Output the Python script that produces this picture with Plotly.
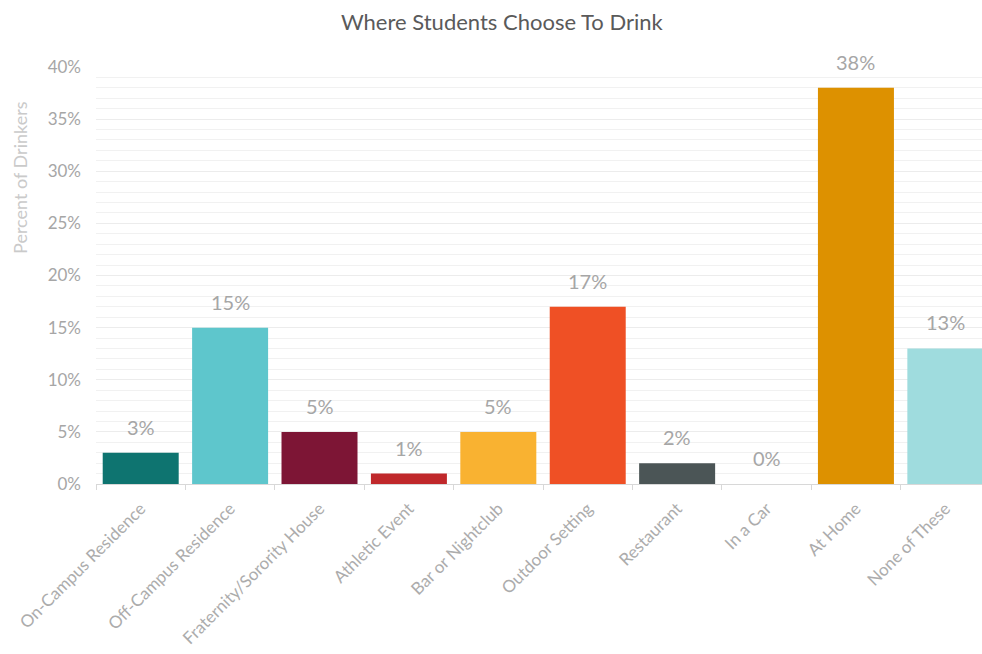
import plotly.graph_objects as go

categories = ["On-Campus Residence", "Off-Campus Residence", "Fraternity/Sorority House",
              "Athletic Event", "Bar or Nightclub", "Outdoor Setting", "Restaurant",
              "In a Car", "At Home", "None of These"]
values = [3, 15, 5, 1, 5, 17, 2, 0, 38, 13]
colors = ["#0e7470", "#5ec6cc", "#7d1535", "#c0282b", "#f9b231",
          "#ef5025", "#4b5556", "#cccccc", "#dd9100", "#9fdcde"]
tick_vals = [0, 5, 10, 15, 20, 25, 30, 35, 40]
tick_text = [f"{v}%" for v in tick_vals]
y_title = "Percent of Drinkers"
chart_title = "Where Students Choose To Drink"

FONT = "Lato"

fig = go.Figure()
fig.add_trace(go.Bar(
    x=categories, y=values, marker=dict(color=colors, line=dict(width=0)),
    width=0.85, hoverinfo="x+y",
))

for c, v in zip(categories, values):
    fig.add_annotation(x=c, y=v, text=f"{v}%", showarrow=False, yanchor="bottom",
                       yshift=12, font=dict(family=FONT, size=20, color="#a6a6a6"))

fig.add_annotation(xref="paper", yref="paper", x=0, y=0.734, xshift=-76,
                   text=y_title, textangle=-90, showarrow=False,
                   xanchor="center", yanchor="middle",
                   font=dict(family=FONT, size=18, color="#cacaca"))

fig.update_layout(
    width=982, height=654,
    margin=dict(l=96, r=0, t=67, b=170, autoexpand=False),
    paper_bgcolor="white", plot_bgcolor="white",
    showlegend=False,
    bargap=0.15,
    title=dict(text=chart_title, x=0.511, xanchor="center",
               y=0.966, yanchor="middle",
               font=dict(family=FONT, size=22, color="#5a5a5a")),
    font=dict(family=FONT),
)
fig.update_xaxes(
    range=[-0.5, 9.41], tickangle=-45, showgrid=False, automargin=False,
    tickson="boundaries", ticks="outside", ticklen=5, tickcolor="#d8d8d8",
    showline=True, linecolor="#d8d8d8", linewidth=1, ticklabelstandoff=7,
    tickfont=dict(family=FONT, size=17, color="#acacac"),
)
fig.update_yaxes(
    range=[0, 40], tickvals=tick_vals, ticktext=tick_text, automargin=False,
    showgrid=True, gridcolor="#ececec", gridwidth=1,
    minor=dict(dtick=1, showgrid=True, gridcolor="#f1f1f1", gridwidth=1),
    zeroline=False, showline=False, ticks="", ticklabelstandoff=14,
    tickfont=dict(family=FONT, size=17, color="#a6a6a6"),
)

fig.write_html("out.html", config={"displayModeBar": False},
               post_script="document.body.style.margin='0';document.body.style.overflow='hidden';")
